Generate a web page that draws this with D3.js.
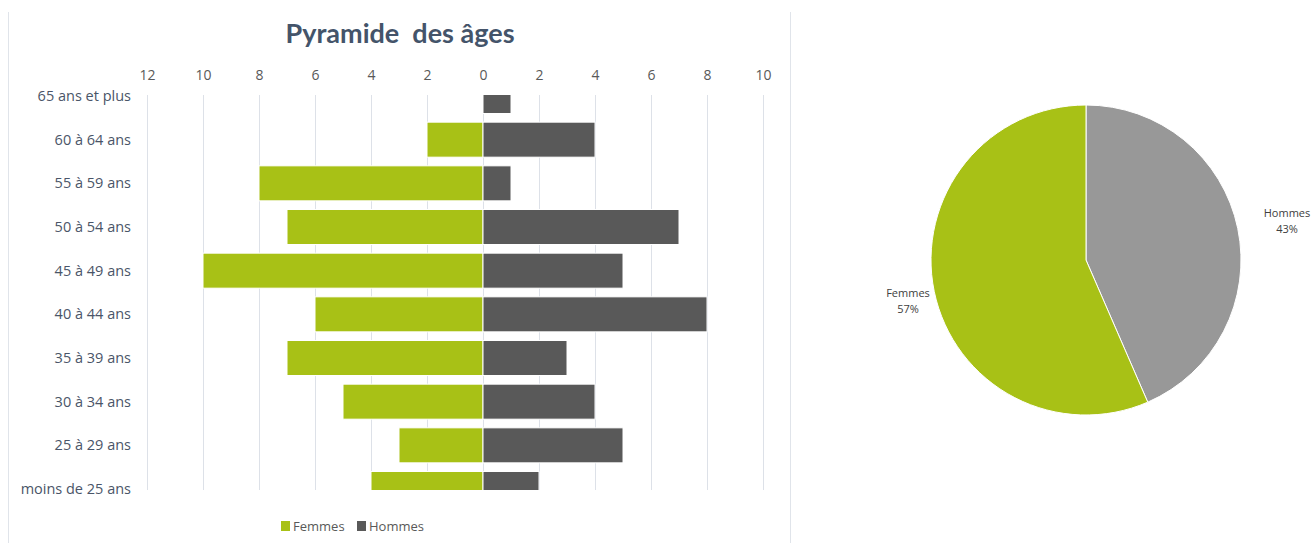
<!DOCTYPE html>
<html><head><meta charset="utf-8">
<script src="https://cdn.jsdelivr.net/npm/d3@7"></script>
<style>body{margin:0;background:#fff}svg{display:block}text{font-family:"Open Sans",sans-serif}</style>
</head><body>
<svg id="c" width="1314" height="543"></svg>
<script>
const categories = ["65 ans et plus","60 à 64 ans","55 à 59 ans","50 à 54 ans","45 à 49 ans","40 à 44 ans","35 à 39 ans","30 à 34 ans","25 à 29 ans","moins de 25 ans"];
const femmes = [0,2,8,7,10,6,7,5,3,4];
const hommes = [1,4,1,7,5,8,3,4,5,2];
const tickValues = [-12,-10,-8,-6,-4,-2,0,2,4,6,8,10];
const pieLabels = ["Hommes","Femmes"];
const pieValues = [d3.sum(hommes), d3.sum(femmes)];

const svg = d3.select("#c");
const cF = "#A8C116", cH = "#595959", cHpie = "#989898";

// panel borders
[8.5, 790.5].forEach(x => svg.append("line").attr("x1",x).attr("x2",x).attr("y1",12).attr("y2",543).attr("stroke","#E0E4EA"));

// title
svg.append("text").attr("x",400).attr("y",43).attr("text-anchor","middle")
  .attr("font-size",27).attr("font-weight","bold").attr("fill","#44546A")
  .style("font-family","Lato, sans-serif").attr("xml:space","preserve").text("Pyramide  des âges");

const x = d3.scaleLinear().domain([-12,10]).range([147,763]);
const y = d3.scalePoint().domain(categories).range([96,489]);
const plotTop = 95, plotBot = 490, bh = 35;

// grid
const g = svg.append("g");
g.selectAll("line.grid").data(tickValues).join("line")
  .attr("x1",d=>x(d)+0.5).attr("x2",d=>x(d)+0.5).attr("y1",plotTop).attr("y2",plotBot)
  .attr("stroke","#DDE1E8");

// tick labels via axis
const ax = svg.append("g").attr("transform",`translate(0,${plotTop-15})`)
  .call(d3.axisTop(x).tickValues(tickValues).tickFormat(d=>Math.abs(d)).tickSize(0).tickPadding(0));
ax.select(".domain").remove();
ax.selectAll("text").attr("font-size",14).attr("fill","#595959").style("font-family","Open Sans, sans-serif");

// y labels
const ay = svg.append("g").attr("transform",`translate(131,0)`)
  .call(d3.axisLeft(y).tickSize(0).tickPadding(0));
ay.select(".domain").remove();
ay.selectAll("text").attr("font-size",14.5).attr("fill","#4A5568").attr("dy","0.32em").style("font-family","Open Sans, sans-serif");

// clip
svg.append("clipPath").attr("id","pc").append("rect").attr("x",140).attr("y",plotTop).attr("width",640).attr("height",plotBot-plotTop);
const bars = svg.append("g").attr("clip-path","url(#pc)");
bars.selectAll("rect.f").data(categories).join("rect")
  .attr("x",(d,i)=>x(-femmes[i])).attr("width",(d,i)=>x(0)-x(-femmes[i]))
  .attr("y",d=>y(d)-bh/2).attr("height",bh).attr("fill",cF).attr("stroke","#fff").attr("stroke-width",1);
bars.selectAll("rect.h").data(categories).join("rect")
  .attr("x",x(0)).attr("width",(d,i)=>x(hommes[i])-x(0))
  .attr("y",d=>y(d)-bh/2).attr("height",bh).attr("fill",cH).attr("stroke","#fff").attr("stroke-width",1);

// legend
const leg = svg.append("g").attr("transform","translate(281,520)");
[["Femmes",cF,0],["Hommes",cH,76]].forEach(([t,c,dx])=>{
  leg.append("rect").attr("x",dx).attr("y",1).attr("width",9).attr("height",10).attr("fill",c);
  leg.append("text").attr("x",dx+12).attr("y",10.5).attr("font-size",13).attr("fill","#595959").text(t);
});

// pie
const cx = 1086, cy = 260, r = 155;
const pie = d3.pie().sort(null).value(d=>d)(pieValues);
const arc = d3.arc().innerRadius(0).outerRadius(r);
const pg = svg.append("g").attr("transform",`translate(${cx},${cy})`);
pg.selectAll("path").data(pie).join("path").attr("d",arc)
  .attr("fill",(d,i)=>i===0?cHpie:cF).attr("stroke","#fff").attr("stroke-width",1);
const total = d3.sum(pieValues);
const labPos = [[1287,217],[908,297]];
pie.forEach((d,i)=>{
  const t = svg.append("text").attr("x",labPos[i][0]).attr("y",labPos[i][1]).attr("text-anchor","middle")
    .attr("font-size",11).attr("fill","#404040");
  t.append("tspan").attr("x",labPos[i][0]).text(pieLabels[i]);
  t.append("tspan").attr("x",labPos[i][0]).attr("dy",16).text(Math.round(d.value/total*100)+"%");
});
</script>
</body></html>
